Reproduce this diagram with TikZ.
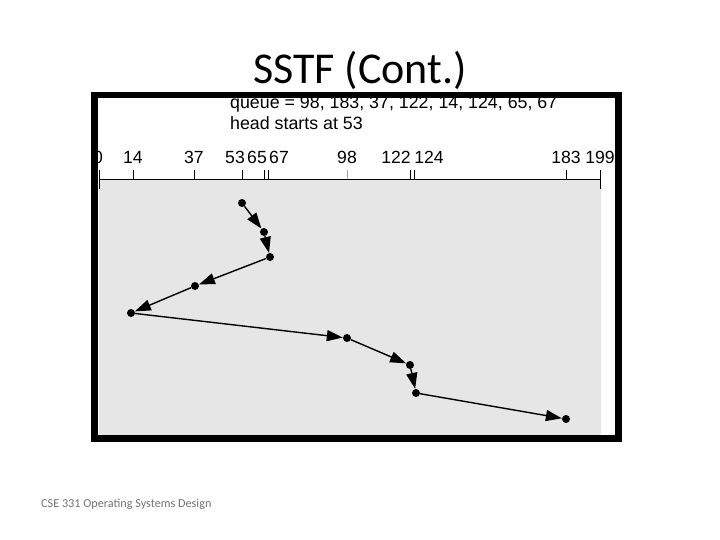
\documentclass[tikz,border=0pt]{standalone}
\usepackage{fontspec}
\setmainfont{Liberation Sans}
\newfontfamily\figfont{Liberation Sans}
\newfontfamily\slidefont{Carlito}
\usetikzlibrary{arrows.meta}

\begin{document}
\begin{tikzpicture}[
    x=1pt, y=-1pt,
    panel/.style={fill={rgb,255:red,230;green,230;blue,230}},
    frameline/.style={draw=black, line width=6.5pt},
    axisline/.style={draw=black, line width=0.9pt},
    tick/.style={draw=black, line width=0.9pt},
    ticklbl/.style={anchor=base, inner sep=0pt, font=\figfont\fontsize{17.6}{20}\selectfont},
    qtext/.style={anchor=base west, inner sep=0pt, font=\figfont\fontsize{17.8}{20}\selectfont},
    stop/.style={circle, fill=black, inner sep=0pt, minimum size=8pt},
    seek/.style={draw=black, line width=1.4pt, -{Triangle[length=16pt, width=11pt]}},
  ]
  \useasboundingbox (0,0) rectangle (720,540);
  \node[anchor=base, inner sep=0pt, font=\slidefont\fontsize{44}{50}\selectfont] (title) at (360,84) {SSTF (Cont.)};
  \fill[panel] (99,179) rectangle (600.5,435);
  \draw[axisline] (99,179) -- (600.5,179);
  \foreach \x in {133, 194, 242, 264, 268, 410, 414, 566.5} { \draw[tick] (\x,170) -- (\x,179); }
  \draw[tick, draw=black!35] (347,170) -- (347,179);
  \draw[tick] (99,170) -- (99,189);
  \draw[tick] (600.5,170) -- (600.5,189);
  \foreach \x/\v in {98/0, 133/14, 194/37, 235/53, 257/65, 279/67, 347/98, 396/122, 429/124, 566/183, 600/199}
    { \node[ticklbl] (lbl\v) at (\x,164) {\v}; }
  \draw[frameline] (94.5,95) rectangle (618.3,438.3);
  \node[qtext] (queue) at (230,109) {queue = 98, 183, 37, 122, 14, 124, 65, 67};
  \node[qtext] (head) at (230,130) {head starts at 53};
  \node[stop] (p53) at (242,203) {};
  \node[stop] (p65) at (264,232) {};
  \node[stop] (p67) at (270,257) {};
  \node[stop] (p37) at (195,286) {};
  \node[stop] (p14) at (131,313) {};
  \node[stop] (p98) at (347,338) {};
  \node[stop] (p122) at (410,365) {};
  \node[stop] (p124) at (416,393) {};
  \node[stop] (p183) at (566,419) {};
  \foreach \a/\b in {p53/p65, p65/p67, p67/p37, p37/p14, p14/p98, p98/p122, p122/p124, p124/p183}
    { \draw[seek] (\a) -- (\b); }
  \node[anchor=base west, inner sep=0pt, text=black!55, font=\slidefont\fontsize{12.2}{14}\selectfont] (footer) at (41,507.3) {CSE 331 Operating Systems Design};
\end{tikzpicture}
\end{document}
